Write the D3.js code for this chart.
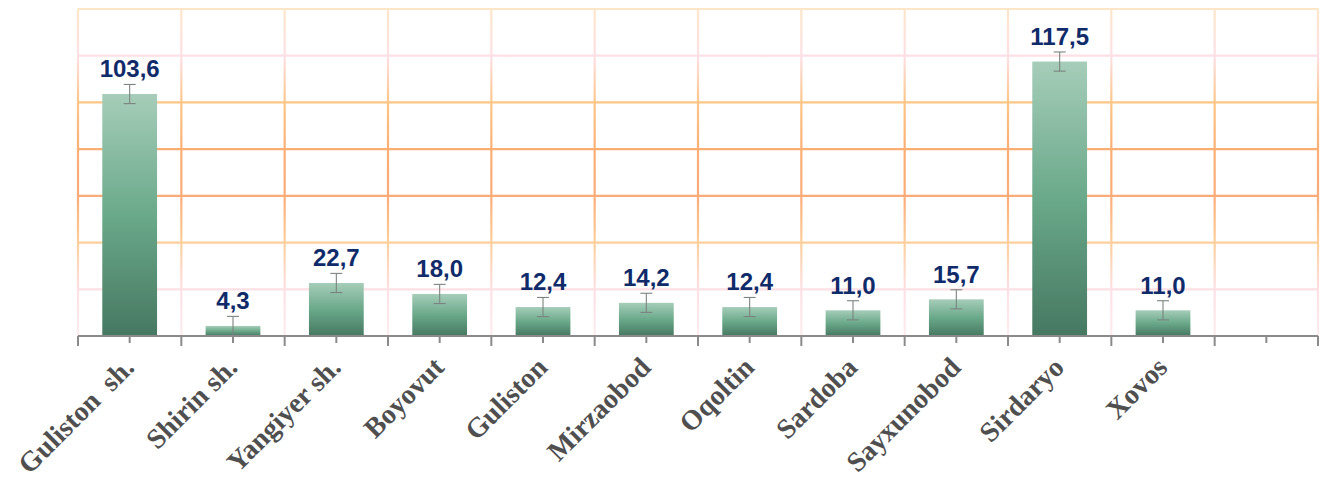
<!DOCTYPE html>
<html>
<head>
<meta charset="utf-8">
<script src="https://cdn.jsdelivr.net/npm/d3@7"></script>
<style>
  html, body { margin: 0; padding: 0; background: #ffffff; }
  svg { display: block; }
</style>
</head>
<body>
<svg id="chart" width="1328" height="479"></svg>
<script>
// District values with their error margins
const categories = ["Guliston  sh.", "Shirin sh.", "Yangiyer sh.", "Boyovut", "Guliston",
                    "Mirzaobod", "Oqoltin", "Sardoba", "Sayxunobod", "Sirdaryo", "Xovos"];
const values = [103.6, 4.3, 22.7, 18.0, 12.4, 14.2, 12.4, 11.0, 15.7, 117.5, 11.0];
const errors = [4.1, 4.1, 4.1, 4.1, 4.1, 4.1, 4.1, 4.1, 4.1, 4.1, 4.1];
const yTicks = [0, 20, 40, 60, 80, 100, 120, 140];
// one trailing empty slot on the category axis
const slots = [...categories, ""];

const width = 1328, height = 479;
const margin = { top: 9, right: 10, bottom: 143, left: 78 };
const innerW = width - margin.left - margin.right;
const innerH = height - margin.top - margin.bottom;

const svg = d3.select("#chart");
const defs = svg.append("defs");

// gridline colour varies from top to bottom of the plot area
const gridGrad = defs.append("linearGradient")
  .attr("id", "gridGrad")
  .attr("gradientUnits", "userSpaceOnUse")
  .attr("x1", 0).attr("x2", 0)
  .attr("y1", 0).attr("y2", innerH);
[[0, "#fde6c8"], [0.144, "#fddfe6"], [0.287, "#fcc586"], [0.43, "#fbae74"],
 [0.57, "#fbab78"], [0.716, "#fdcf9c"], [0.86, "#fde0e6"], [1, "#fdecef"]]
  .forEach(([o, c]) => gridGrad.append("stop").attr("offset", o).attr("stop-color", c));

// bar fill: light green on top, dark green at the base
const barGrad = defs.append("linearGradient")
  .attr("id", "barGrad")
  .attr("x1", 0).attr("x2", 0).attr("y1", 0).attr("y2", 1);
[[0, "#a6cdb9"], [0.5, "#6aa98a"], [1, "#467861"]]
  .forEach(([o, c]) => barGrad.append("stop").attr("offset", o).attr("stop-color", c));

const g = svg.append("g").attr("transform", `translate(${margin.left},${margin.top})`);

const x = d3.scaleBand().domain(slots).range([0, innerW]).padding(0);
const y = d3.scaleLinear().domain([0, 140]).range([innerH, 0]);
const step = x.step();
const barW = step * 0.53;

// grid
const grid = g.append("g").attr("stroke", "url(#gridGrad)").attr("stroke-width", 2.2).attr("fill", "none");
grid.selectAll("line.h").data(yTicks.filter(t => t > 0)).join("line")
  .attr("class", "h")
  .attr("x1", 0).attr("x2", innerW)
  .attr("y1", d => y(d)).attr("y2", d => y(d));
const bounds = slots.map(s => x(s)).concat([innerW]);
grid.selectAll("line.v").data(bounds).join("line")
  .attr("class", "v")
  .attr("x1", d => d).attr("x2", d => d)
  .attr("y1", 0).attr("y2", innerH);

const data = categories.map((c, i) => ({ c, v: values[i], e: errors[i] }));
const fmt = d3.formatLocale({ decimal: ",", thousands: " ", grouping: [3], currency: ["", ""] }).format(".1f");

// bars
g.selectAll("rect.bar").data(data).join("rect")
  .attr("class", "bar")
  .attr("x", d => x(d.c) + (step - barW) / 2)
  .attr("width", barW)
  .attr("y", d => y(d.v))
  .attr("height", d => y(0) - y(d.v))
  .attr("fill", "url(#barGrad)");

// error bars
const eb = g.append("g").attr("stroke", "#7b847f").attr("stroke-width", 1.1).attr("fill", "none");
data.forEach(d => {
  const cx = x(d.c) + step / 2;
  const top = y(d.v + d.e), bot = Math.min(y(d.v - d.e), y(0));
  eb.append("line").attr("x1", cx).attr("x2", cx).attr("y1", top).attr("y2", bot);
  eb.append("line").attr("x1", cx - 6).attr("x2", cx + 6).attr("y1", top).attr("y2", top);
  if (d.v - d.e > 0)
    eb.append("line").attr("x1", cx - 6).attr("x2", cx + 6).attr("y1", bot).attr("y2", bot);
});

// value labels
g.selectAll("text.val").data(data).join("text")
  .attr("class", "val")
  .attr("x", d => x(d.c) + step / 2)
  .attr("y", d => y(d.v + d.e) - 7)
  .attr("text-anchor", "middle")
  .attr("font-family", "'Liberation Sans', Arial, sans-serif")
  .attr("font-weight", "bold")
  .attr("font-size", 24)
  .attr("fill", "#102b6a")
  .text(d => fmt(d.v));

// category axis with ticks at slot edges and centres
const axis = g.append("g").attr("transform", `translate(0,${innerH})`);
axis.append("line").attr("x1", 0).attr("x2", innerW).attr("y1", 0).attr("y2", 0)
  .attr("stroke", "#8a8a8a").attr("stroke-width", 2);
axis.selectAll("line.te").data(bounds).join("line")
  .attr("class", "te")
  .attr("x1", d => d).attr("x2", d => d).attr("y1", 0).attr("y2", 10)
  .attr("stroke", "#8a8a8a").attr("stroke-width", 2);
axis.selectAll("line.tc").data(slots).join("line")
  .attr("class", "tc")
  .attr("x1", d => x(d) + step / 2).attr("x2", d => x(d) + step / 2).attr("y1", 0).attr("y2", 7)
  .attr("stroke", "#8a8a8a").attr("stroke-width", 2);

axis.selectAll("text.cat").data(categories).join("text")
  .attr("class", "cat")
  .attr("transform", d => `translate(${x(d) + step / 2 + 6},33) rotate(-45)`)
  .attr("text-anchor", "end")
  .attr("font-family", "'Liberation Serif', 'Times New Roman', serif")
  .attr("font-weight", "bold")
  .attr("font-size", 28)
  .attr("fill", "#4f4f4f")
  .style("white-space", "pre")
  .text(d => d);
</script>
</body>
</html>
